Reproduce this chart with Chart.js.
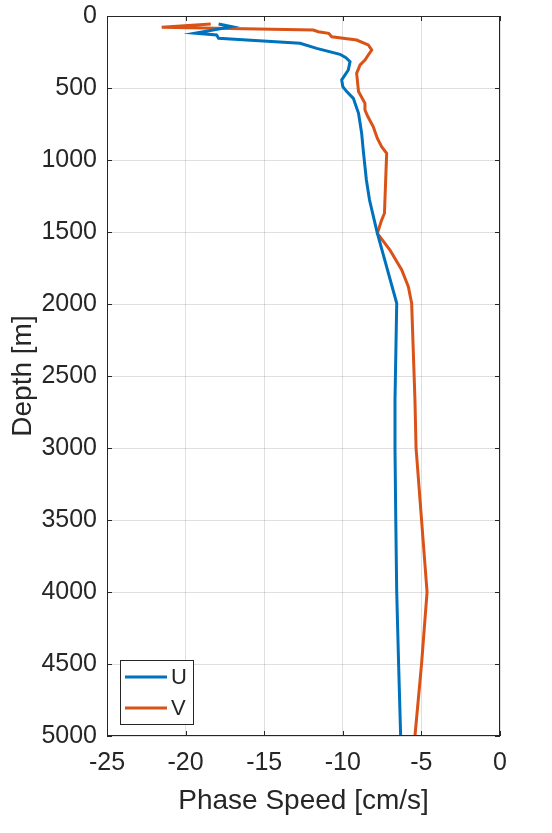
<!DOCTYPE html>
<html lang="en">
<head>
  <meta charset="UTF-8">
  <title>Phase Speed vs Depth</title>
  <style>
    body {
      margin: 0;
      background-color: white;
    }
    .container {
      width: 552px;
      height: 833px;
      position: relative;
    }
  </style>
  <script src="https://cdn.jsdelivr.net/npm/chart.js"></script>
</head>
<body>
  <div class="container">
    <canvas id="speedChart" width="552" height="833"></canvas>
  </div>

  <script>
    // Depth [m] and phase speed [cm/s]
    const uDepth = [56, 74, 120, 132, 155, 174, 190, 225, 266, 290, 317, 375, 444, 490, 525, 572, 676, 745, 815, 931, 1139, 1278, 1417, 1509, 1995, 2667, 3000, 3500, 4000, 4500, 5000];
    const uSpeed = [-17.9, -17.07, -19.4, -18.03, -17.9, -15.06, -12.72, -11.66, -10.18, -9.8, -9.54, -9.65, -10.07, -10.0, -9.75, -9.33, -9.0, -8.9, -8.8, -8.7, -8.5, -8.3, -8.0, -7.8, -6.57, -6.68, -6.68, -6.63, -6.57, -6.45, -6.32];

    const vDepth = [56, 78, 97, 109, 120, 144, 167, 201, 236, 271, 306, 340, 398, 525, 606, 653, 700, 769, 850, 907, 953, 1370, 1417, 1509, 1625, 1764, 1880, 1995, 2667, 3000, 3500, 4000, 4500, 5000];
    const vSpeed = [-18.4, -21.52, -11.88, -11.56, -10.9, -10.7, -9.12, -8.38, -8.16, -8.38, -8.59, -8.9, -9.12, -9.0, -8.59, -8.59, -8.4, -8.06, -7.8, -7.53, -7.21, -7.35, -7.53, -7.8, -7.0, -6.25, -5.83, -5.62, -5.41, -5.34, -4.99, -4.64, -4.99, -5.41];

    const seriesLabels = ['U', 'V'];
    const seriesColors = ['#0072BD', '#D95319'];

    const toPoints = (xs, ys) => xs.map((x, i) => ({ x: x, y: ys[i] }));

    const axisColor = '#262626';
    const fontFamily = "'Liberation Sans', Arial, sans-serif";

    // box around the axes, inward tick marks and the legend, MATLAB style
    const matlabFrame = {
      id: 'matlabFrame',
      afterDraw(chart) {
        const ctx = chart.ctx;
        const a = chart.chartArea;
        const xs = chart.scales.x;
        const ys = chart.scales.y;
        const tick = 5;

        ctx.save();
        ctx.strokeStyle = axisColor;
        ctx.lineWidth = 1;
        ctx.strokeRect(a.left + 0.5, a.top + 0.5, a.right - a.left - 1, a.bottom - a.top - 1);

        ctx.beginPath();
        xs.ticks.forEach(t => {
          const px = Math.round(xs.getPixelForValue(t.value)) + 0.5;
          ctx.moveTo(px, a.bottom); ctx.lineTo(px, a.bottom - tick);
          ctx.moveTo(px, a.top); ctx.lineTo(px, a.top + tick);
        });
        ys.ticks.forEach(t => {
          const py = Math.round(ys.getPixelForValue(t.value)) + 0.5;
          ctx.moveTo(a.left, py); ctx.lineTo(a.left + tick, py);
          ctx.moveTo(a.right, py); ctx.lineTo(a.right - tick, py);
        });
        ctx.stroke();

        // legend box
        const lx = a.left + 13;
        const ly = a.bottom - 76;
        const lw = 73;
        const lh = 64;
        ctx.fillStyle = 'white';
        ctx.fillRect(lx, ly, lw, lh);
        ctx.strokeStyle = axisColor;
        ctx.strokeRect(lx + 0.5, ly + 0.5, lw, lh);
        ctx.font = '22px ' + fontFamily;
        ctx.textBaseline = 'middle';
        chart.data.datasets.forEach((ds, i) => {
          const cy = ly + 17 + i * 31;
          ctx.strokeStyle = ds.borderColor;
          ctx.lineWidth = 3;
          ctx.beginPath();
          ctx.moveTo(lx + 5, cy);
          ctx.lineTo(lx + 47, cy);
          ctx.stroke();
          ctx.fillStyle = axisColor;
          ctx.fillText(ds.label, lx + 51, cy + 1);
        });
        ctx.restore();
      }
    };

    const ctx = document.getElementById('speedChart').getContext('2d');
    const speedChart = new Chart(ctx, {
      type: 'scatter',
      data: {
        datasets: [
          {
            label: seriesLabels[0],
            data: toPoints(uSpeed, uDepth),
            borderColor: seriesColors[0],
            backgroundColor: seriesColors[0],
            showLine: true,
            borderWidth: 3,
            pointRadius: 0,
            tension: 0
          },
          {
            label: seriesLabels[1],
            data: toPoints(vSpeed, vDepth),
            borderColor: seriesColors[1],
            backgroundColor: seriesColors[1],
            showLine: true,
            borderWidth: 3,
            pointRadius: 0,
            tension: 0
          }
        ]
      },
      options: {
        responsive: false,
        animation: false,
        layout: {
          padding: { left: 0, top: 16, right: 52, bottom: 0 }
        },
        scales: {
          x: {
            type: 'linear',
            min: -25,
            max: 0,
            ticks: {
              stepSize: 5,
              color: axisColor,
              padding: 12,
              font: { family: fontFamily, size: 25 },
              callback: v => String(v)
            },
            grid: {
              color: 'rgba(38, 38, 38, 0.15)',
              drawTicks: false
            },
            border: { display: false },
            title: {
              display: true,
              text: 'Phase Speed [cm/s]',
              color: axisColor,
              font: { family: fontFamily, size: 28 },
              padding: { top: 4, bottom: 15 }
            },
            afterFit: s => { s.height = 97; s.paddingLeft = 0; s.paddingRight = 0; }
          },
          y: {
            type: 'linear',
            reverse: true,
            min: 0,
            max: 5000,
            ticks: {
              stepSize: 500,
              color: axisColor,
              padding: 10,
              font: { family: fontFamily, size: 25 },
              callback: v => String(v)
            },
            grid: {
              color: 'rgba(38, 38, 38, 0.15)',
              drawTicks: false
            },
            border: { display: false },
            title: {
              display: true,
              text: 'Depth [m]',
              color: axisColor,
              font: { family: fontFamily, size: 28 },
              padding: { top: 6, bottom: 0 }
            },
            afterFit: s => { s.width = 107; s.paddingTop = 0; s.paddingBottom = 0; }
          }
        },
        plugins: {
          legend: { display: false },
          tooltip: { enabled: false }
        }
      },
      plugins: [matlabFrame]
    });
  </script>
</body>
</html>
